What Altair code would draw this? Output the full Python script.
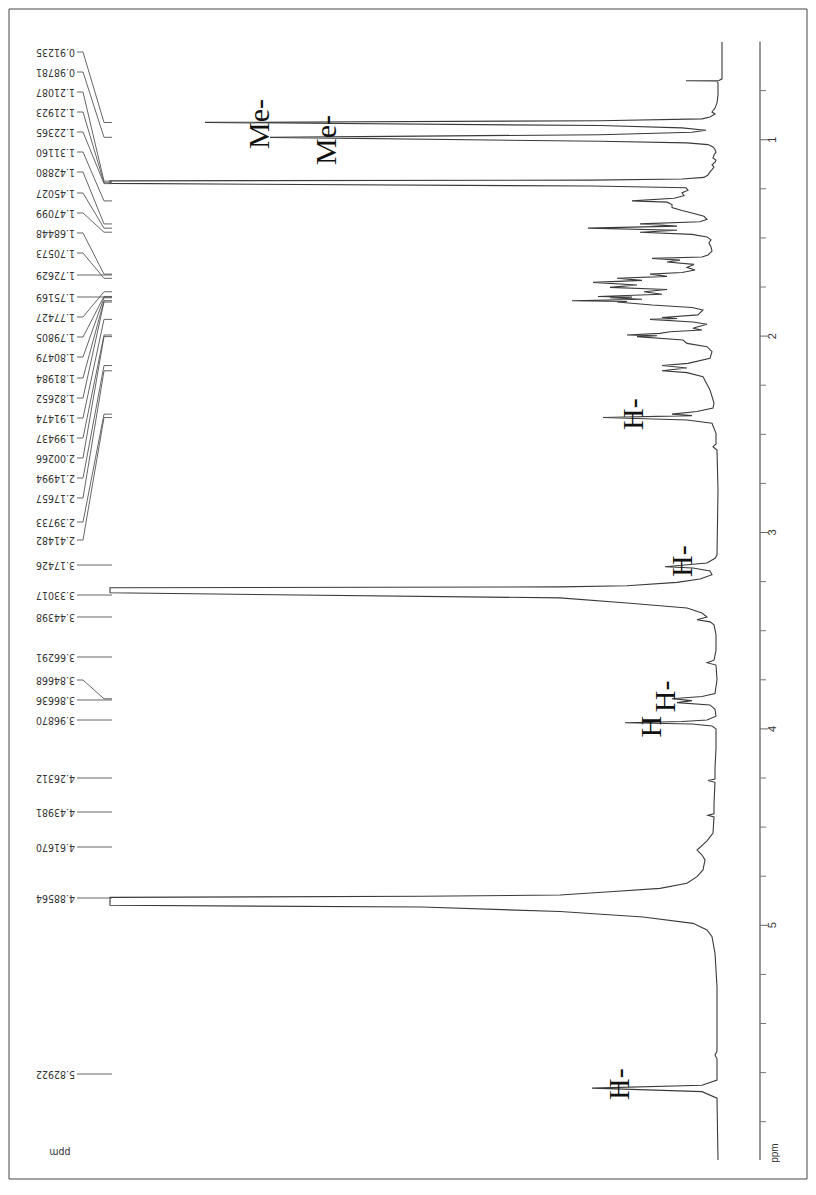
import altair as alt
import pandas as pd

# ---------------- data ----------------
# spectrum trace: chemical shift (ppm) and intensity (arbitrary units, 612 = off scale)
spec_ppm = [0.503, 0.676, 0.690, 0.6985, 0.700, 0.7015, 0.710, 0.772, 0.813, 0.839, 0.859, 0.869, 0.884, 0.894,
            0.9035, 0.912, 0.928, 0.940, 0.952, 0.962, 0.9745, 0.988, 1.008, 1.016, 1.025, 1.037, 1.050, 1.063,
            1.078, 1.093, 1.104, 1.114, 1.128, 1.139, 1.152, 1.164, 1.180, 1.192, 1.200, 1.206, 1.2095, 1.2225,
            1.236, 1.245, 1.258, 1.270, 1.285, 1.298, 1.3116, 1.318, 1.330, 1.345, 1.360, 1.373, 1.390, 1.405,
            1.418, 1.4288, 1.440, 1.4503, 1.461, 1.471, 1.482, 1.495, 1.510, 1.525, 1.546, 1.567, 1.587, 1.597,
            1.604, 1.613, 1.623, 1.635, 1.650, 1.663, 1.676, 1.6845, 1.696, 1.7057, 1.716, 1.7263, 1.740, 1.7517,
            1.763, 1.7743, 1.787, 1.7981, 1.8015, 1.8048, 1.812, 1.8198, 1.8235, 1.8265, 1.842, 1.854, 1.867,
            1.882, 1.892, 1.905, 1.910, 1.9147, 1.928, 1.940, 1.952, 1.960, 1.969, 1.978, 1.986, 1.9944, 1.998,
            2.0027, 2.020, 2.037, 2.054, 2.079, 2.113, 2.139, 2.1499, 2.162, 2.1766, 2.186, 2.207, 2.274, 2.341,
            2.366, 2.384, 2.3973, 2.405, 2.4148, 2.427, 2.444, 2.495, 2.549, 2.563, 2.580, 2.784, 3.115, 3.131,
            3.155, 3.1743, 3.181, 3.196, 3.215, 3.237, 3.254, 3.271, 3.277, 3.281, 3.307, 3.333, 3.359, 3.384,
            3.410, 3.430, 3.444, 3.455, 3.470, 3.520, 3.600, 3.650, 3.663, 3.675, 3.750, 3.820, 3.835, 3.8467,
            3.856, 3.8664, 3.878, 3.900, 3.935, 3.955, 3.962, 3.9687, 3.975, 3.985, 4.000, 4.100, 4.200, 4.255,
            4.263, 4.272, 4.380, 4.432, 4.440, 4.448, 4.530, 4.570, 4.6167, 4.642, 4.667, 4.718, 4.752, 4.786,
            4.812, 4.829, 4.846, 4.852, 4.858, 4.898, 4.907, 4.930, 4.958, 4.990, 5.024, 5.058, 5.143, 5.313,
            5.640, 5.660, 5.680, 5.788, 5.814, 5.829, 5.847, 5.880, 6.195]
spec_int = [0, 0, 0, 3, 36, 5, 4, 4, 5, 7, 10, 7, 12, 20,
            122, 517, 122, 40, 16, 30, 122, 452, 122, 35, 14, 9, 7, 6,
            8, 9, 6, 7, 10, 8, 10, 12, 14, 18, 40, 130, 612, 612,
            130, 36, 34, 40, 38, 48, 90, 55, 50, 50, 40, 30, 18, 15,
            22, 82, 45, 134, 45, 82, 30, 15, 11, 13, 11, 10, 14, 20,
            70, 42, 55, 28, 35, 27, 40, 72, 55, 105, 80, 129, 85, 112,
            55, 78, 60, 124, 90, 112, 80, 150, 95, 105, 70, 30, 19,
            22, 24, 60, 45, 72, 29, 15, 24, 29, 20, 52, 62, 95, 65,
            85, 39, 35, 15, 10, 12, 34, 60, 35, 60, 35, 19, 12, 8,
            9, 25, 50, 30, 119, 35, 10, 6, 6, 9, 5, 4, 5, 7,
            15, 57, 29, 12, 10, 22, 45, 95, 162, 612, 612, 162, 95, 35,
            20, 15, 25, 12, 8, 6, 6, 8, 15, 6, 5, 7, 20, 50,
            30, 45, 12, 7, 6, 15, 40, 97, 30, 10, 6, 6, 7, 7,
            14, 7, 8, 8, 14, 8, 9, 15, 25, 20, 17, 19, 25, 35,
            62, 112, 162, 300, 612, 612, 300, 162, 79, 29, 15, 10, 7, 5,
            5, 7, 5, 5, 20, 130, 20, 5, 4]

# peak-pick labels and where each label is printed (ppm of the label column)
peak_labels = ["0.91235", "0.98781", "1.21087", "1.21923", "1.22365", "1.31160", "1.42880", "1.45027",
               "1.47099", "1.68448", "1.70573", "1.72629", "1.75169", "1.77427", "1.79805", "1.80479",
               "1.81984", "1.82652", "1.91474", "1.99437", "2.00266", "2.14994", "2.17657", "2.39733",
               "2.41482", "3.17426", "3.33017", "3.44398", "3.66291", "3.84668", "3.86636", "3.96870",
               "4.26312", "4.43981", "4.61670", "4.88564", "5.82922"]
label_pos = [0.5535, 0.6553, 0.7571, 0.8590, 0.9608, 1.0626, 1.1645, 1.2714, 1.3732, 1.4750, 1.5769,
             1.6889, 1.8009, 1.9027, 2.0046, 2.1064, 2.2133, 2.3152, 2.4170, 2.5188, 2.6207, 2.7225,
             2.8243, 2.9466, 3.0382, 3.1655, 3.3182, 3.4302, 3.6339, 3.7510, 3.8528, 3.9547, 4.2500,
             4.4231, 4.6013, 4.8610, 5.7571]

# hand-written assignments
ann_text = ["Me-", "Me-", "H-", "H-", "H-", "H", "H-"]
ann_ppm = [0.920, 1.0015, 2.397, 3.146, 3.8345, 3.9889, 5.8085]
ann_int = [462, 395, 88, 39, 56, 70, 102]

# ppm axis
axis_span = [0.5, 6.195]
major_ticks = [1, 2, 3, 4, 5]
major_labels = ["1", "2", "3", "4", "5"]
minor_ticks = [0.75, 1.25, 1.5, 1.75, 2.25, 2.5, 2.75, 3.25, 3.5, 3.75, 4.25, 4.5, 4.75,
               5.25, 5.5, 5.75, 6.0]

# ---------------- layout / styles ----------------
W, H = 800, 1172
xs = alt.Scale(domain=[-86, 714], reverse=True, nice=False, zero=False)
ys = alt.Scale(domain=[0.3294, 6.2968], reverse=True, nice=False, zero=False)
CONN_X = [645, 639, 618, 610]   # connector columns (intensity units)
INK = "#333333"
LBL_FONT = "Liberation Sans Narrow, DejaVu Sans Condensed, Liberation Sans"


def X(f):
    return alt.X(f, type="quantitative", scale=xs, axis=None)


def Y(f):
    return alt.Y(f, type="quantitative", scale=ys, axis=None)


df_spec = pd.DataFrame({"ppm": spec_ppm, "inten": spec_int, "idx": list(range(len(spec_ppm)))})

rows = []
for i, (t, lp) in enumerate(zip(peak_labels, label_pos)):
    pk = float(t)
    tgt = lp if abs(pk - lp) < 0.075 else pk
    for s, (cx, cy) in enumerate(zip(CONN_X, [lp, lp, tgt, tgt])):
        rows.append({"lid": i, "seq": s, "ppm": cy, "inten": cx})
df_conn = pd.DataFrame(rows)
df_lbl = pd.DataFrame({"txt": peak_labels, "ppm": label_pos})
df_ann = pd.DataFrame({"txt": ann_text, "ppm": ann_ppm, "inten": ann_int})

frame = alt.Chart(pd.DataFrame({"k": [0]})).mark_rect(
    fill="white", fillOpacity=0, stroke="#444444", strokeWidth=1
).encode(x=alt.value(1), x2=alt.value(799), y=alt.value(1), y2=alt.value(1171))

spec = alt.Chart(df_spec).mark_line(color="#3a3a3a", strokeWidth=1.1).encode(
    x=X("inten"), y=Y("ppm"), order=alt.Order("idx:Q")
)

conn = alt.Chart(df_conn).mark_line(color="#555555", strokeWidth=0.9).encode(
    x=X("inten"), y=Y("ppm"), detail="lid:N", order=alt.Order("seq:Q")
)

labels = alt.Chart(df_lbl).mark_text(
    angle=180, align="left", baseline="middle", font=LBL_FONT, fontSize=10.5, color=INK
).encode(x=alt.value(67), y=Y("ppm"), text="txt:N")

ann = alt.Chart(df_ann).mark_text(
    angle=270, align="center", baseline="middle", font="Liberation Serif", fontSize=30, color="#111111"
).encode(x=X("inten"), y=Y("ppm"), text="txt:N")

axis_line = alt.Chart(pd.DataFrame({"a": [axis_span[0]], "b": [axis_span[1]]})).mark_rule(
    color="#777777", strokeWidth=1.5
).encode(x=alt.value(752), y=Y("a"), y2="b")

maj = alt.Chart(pd.DataFrame({"t": major_ticks, "lab": major_labels}))
maj_ticks = maj.mark_rule(color="#666666", strokeWidth=1).encode(
    x=alt.value(752), x2=alt.value(760), y=Y("t")
)
maj_text = maj.mark_text(
    angle=270, align="center", baseline="middle", font="Liberation Sans", fontSize=11, color=INK
).encode(x=alt.value(765), y=Y("t"), text="lab:N")

minor = alt.Chart(pd.DataFrame({"t": minor_ticks})).mark_rule(color="#777777", strokeWidth=1).encode(
    x=alt.value(752), x2=alt.value(758), y=Y("t")
)

units = alt.Chart(pd.DataFrame({"txt": ["ppm", "ppm"], "ppm": [6.16, 6.154],
                                "ang": ["r", "l"]}))
unit_r = units.transform_filter(alt.datum.ang == "r").mark_text(
    angle=270, align="center", baseline="middle", font="Liberation Sans", fontSize=10, color=INK
).encode(x=alt.value(767), y=Y("ppm"), text="txt:N")
unit_l = units.transform_filter(alt.datum.ang == "l").mark_text(
    angle=180, align="center", baseline="middle", font=LBL_FONT, fontSize=10.5, color=INK
).encode(x=alt.value(52), y=Y("ppm"), text="txt:N")

chart = alt.layer(
    frame, spec, conn, labels, ann, axis_line, minor, maj_ticks, maj_text, unit_r, unit_l
).properties(
    width=W, height=H, padding=0, autosize=alt.AutoSizeParams(type="none"), background="white"
).configure_view(stroke=None)

chart.save("out.html", embed_options={"renderer": "svg", "actions": False})
